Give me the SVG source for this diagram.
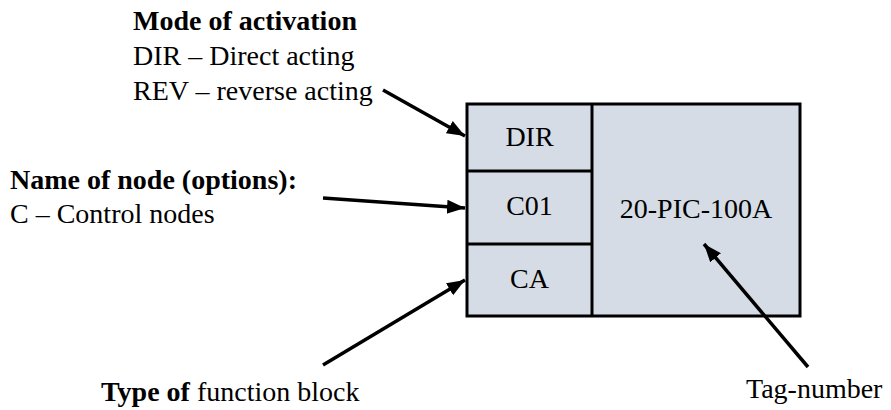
<svg xmlns="http://www.w3.org/2000/svg" width="891" height="410" viewBox="0 0 891 410">
<marker id="ah" markerUnits="userSpaceOnUse" markerWidth="20" markerHeight="16" refX="18" refY="7" orient="auto" viewBox="0 0 20 14">
<path d="M0,0 L18,7 L0,14 Z" fill="#000"/>
</marker>
<rect width="891" height="410" fill="#fff"/>
<g id="block" fill="#d6dce5" stroke="#000" stroke-width="3">
<rect x="467" y="104" width="333" height="212"/>
<line x1="592" y1="104" x2="592" y2="316"/>
<line x1="467" y1="171" x2="592" y2="171"/>
<line x1="467" y1="244" x2="592" y2="244"/>
</g>
<g font-family="Liberation Serif" font-size="28" fill="#000">
<g id="dir"><text text-anchor="middle" x="529.5" y="146">DIR</text></g>
<g id="c01"><text text-anchor="middle" x="529.5" y="215">C01</text></g>
<g id="ca"><text text-anchor="middle" x="529.5" y="288">CA</text></g>
<g id="tag"><text text-anchor="middle" x="696" y="218">20-PIC-100A</text></g>
<g id="mode">
<text font-weight="bold" x="133" y="30">Mode of activation</text>
<text x="133" y="65">DIR – Direct acting</text>
<text x="133" y="100">REV – reverse acting</text>
</g>
<g id="name">
<text font-weight="bold" x="10" y="189">Name of node (options):</text>
<text x="10" y="223">C – Control nodes</text>
</g>
<g id="type"><text x="101" y="401"><tspan font-weight="bold">Type of</tspan> function block</text></g>
<g id="tagnum"><text x="746" y="398">Tag-number</text></g>
</g>
<g id="connectors" stroke="#000" stroke-width="3.5" fill="none" marker-end="url(#ah)">
<line x1="383" y1="90" x2="465" y2="136"/>
<line x1="323" y1="198" x2="465" y2="208"/>
<line x1="323" y1="365" x2="465" y2="280"/>
<line x1="808" y1="367" x2="704" y2="244"/>
</g>
</svg>
